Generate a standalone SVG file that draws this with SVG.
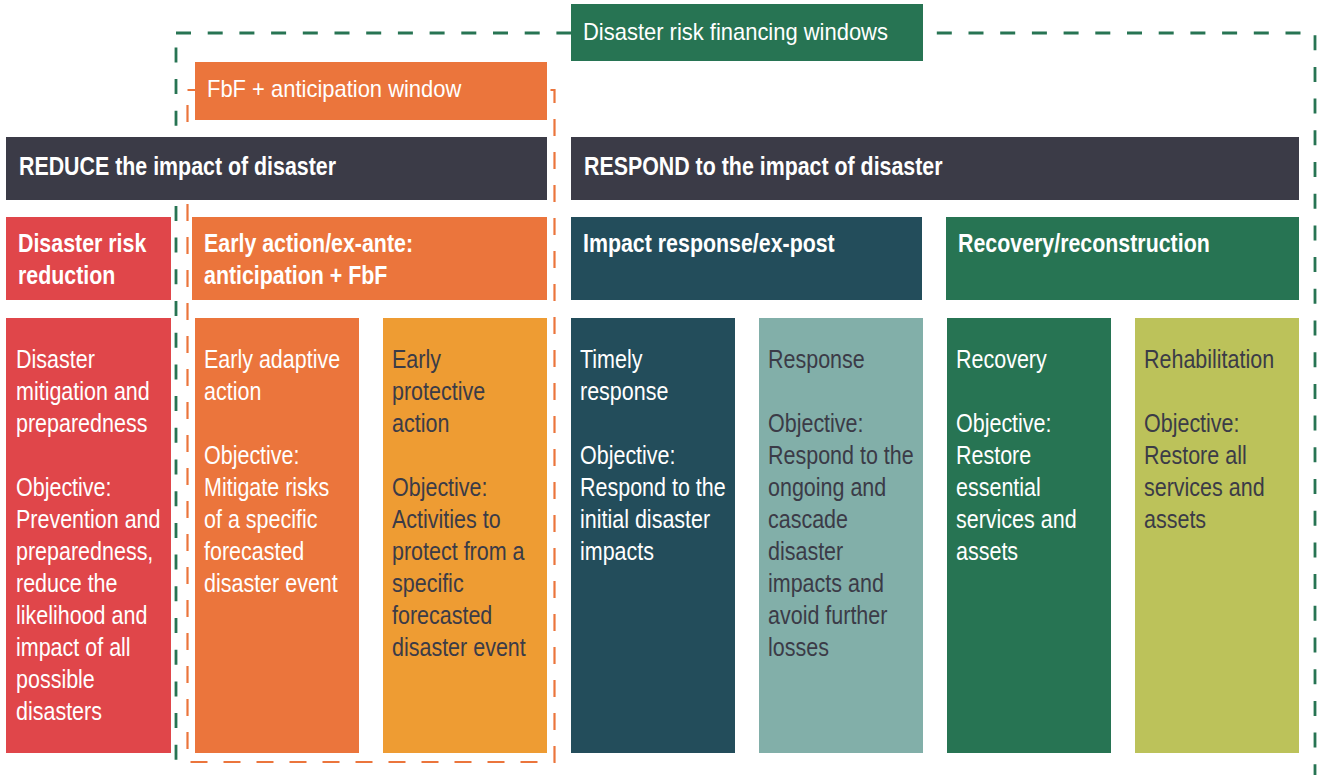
<svg xmlns="http://www.w3.org/2000/svg" width="1317" height="775" viewBox="0 0 1317 775">
  <style>
    text { font-family: "Liberation Sans", Arial, sans-serif; }
    .lbl { font-size: 23px; fill: #ffffff; }
    .hd { font-size: 25px; font-weight: bold; fill: #ffffff; }
    .bd { font-size: 25px; fill: #ffffff; }
    .dk { fill: #3b3b47; }
    .frame-green { fill: none; stroke: #277453; stroke-width: 2.8; stroke-dasharray: 15 16.7; }
    .frame-orange { fill: none; stroke: #eb753c; stroke-width: 2.2; stroke-dasharray: 17 16; }
  </style>
  <rect width="1317" height="775" fill="#ffffff"/>

  <g id="frames">
    <rect class="frame-green" x="176" y="33" width="1139" height="746"/>
    <rect class="frame-orange" x="187.5" y="90" width="367" height="672"/>
  </g>

  <g id="window-drf">
    <rect x="571" y="4" width="352" height="57" fill="#277453"/>
    <g transform="translate(583 0) scale(0.955 1)"><text class="lbl" x="0" y="40">Disaster risk financing windows</text></g>
  </g>
  <g id="window-fbf">
    <rect x="195" y="62" width="352" height="58" fill="#eb753c"/>
    <g transform="translate(207 0) scale(0.955 1)"><text class="lbl" x="0" y="97">FbF + anticipation window</text></g>
  </g>

  <g id="bar-reduce">
    <rect x="6" y="137" width="541" height="63" fill="#3b3b47"/>
    <g transform="translate(19 0) scale(0.855 1)"><text class="hd" x="0" y="175">REDUCE the impact of disaster</text></g>
  </g>
  <g id="bar-respond">
    <rect x="571" y="137" width="728" height="63" fill="#3b3b47"/>
    <g transform="translate(584 0) scale(0.855 1)"><text class="hd" x="0" y="175">RESPOND to the impact of disaster</text></g>
  </g>

  <g id="hdr-drr">
    <rect x="6" y="217" width="165" height="83" fill="#e0464a"/>
    <g transform="translate(18 0) scale(0.855 1)">
      <text class="hd" x="0" y="252">Disaster risk</text>
      <text class="hd" x="0" y="284">reduction</text>
    </g>
  </g>
  <g id="hdr-early">
    <rect x="192" y="217" width="355" height="83" fill="#eb753c"/>
    <g transform="translate(204 0) scale(0.855 1)">
      <text class="hd" x="0" y="252">Early action/ex-ante:</text>
      <text class="hd" x="0" y="284">anticipation + FbF</text>
    </g>
  </g>
  <g id="hdr-impact">
    <rect x="571" y="217" width="351" height="83" fill="#234d5b"/>
    <g transform="translate(583 0) scale(0.855 1)"><text class="hd" x="0" y="252">Impact response/ex-post</text></g>
  </g>
  <g id="hdr-recovery">
    <rect x="946" y="217" width="353" height="83" fill="#277453"/>
    <g transform="translate(958 0) scale(0.855 1)"><text class="hd" x="0" y="252">Recovery/reconstruction</text></g>
  </g>

  <g id="col-mitigation">
    <rect x="6" y="318" width="165" height="435" fill="#e0464a"/>
    <g transform="translate(16 0) scale(0.86 1)">
      <text class="bd" x="0" y="368">Disaster</text>
      <text class="bd" x="0" y="400">mitigation and</text>
      <text class="bd" x="0" y="432">preparedness</text>
      <text class="bd" x="0" y="496">Objective:</text>
      <text class="bd" x="0" y="528">Prevention and</text>
      <text class="bd" x="0" y="560">preparedness,</text>
      <text class="bd" x="0" y="592">reduce the</text>
      <text class="bd" x="0" y="624">likelihood and</text>
      <text class="bd" x="0" y="656">impact of all</text>
      <text class="bd" x="0" y="688">possible</text>
      <text class="bd" x="0" y="720">disasters</text>
    </g>
  </g>
  <g id="col-adaptive">
    <rect x="195" y="318" width="164" height="435" fill="#eb753c"/>
    <g transform="translate(204 0) scale(0.86 1)">
      <text class="bd" x="0" y="368">Early adaptive</text>
      <text class="bd" x="0" y="400">action</text>
      <text class="bd" x="0" y="464">Objective:</text>
      <text class="bd" x="0" y="496">Mitigate risks</text>
      <text class="bd" x="0" y="528">of a specific</text>
      <text class="bd" x="0" y="560">forecasted</text>
      <text class="bd" x="0" y="592">disaster event</text>
    </g>
  </g>
  <g id="col-protective">
    <rect x="383" y="318" width="164" height="435" fill="#ee9c33"/>
    <g transform="translate(392 0) scale(0.86 1)">
      <text class="bd dk" x="0" y="368">Early</text>
      <text class="bd dk" x="0" y="400">protective</text>
      <text class="bd dk" x="0" y="432">action</text>
      <text class="bd dk" x="0" y="496">Objective:</text>
      <text class="bd dk" x="0" y="528">Activities to</text>
      <text class="bd dk" x="0" y="560">protect from a</text>
      <text class="bd dk" x="0" y="592">specific</text>
      <text class="bd dk" x="0" y="624">forecasted</text>
      <text class="bd dk" x="0" y="656">disaster event</text>
    </g>
  </g>
  <g id="col-timely">
    <rect x="571" y="318" width="164" height="435" fill="#234d5b"/>
    <g transform="translate(580 0) scale(0.86 1)">
      <text class="bd" x="0" y="368">Timely</text>
      <text class="bd" x="0" y="400">response</text>
      <text class="bd" x="0" y="464">Objective:</text>
      <text class="bd" x="0" y="496">Respond to the</text>
      <text class="bd" x="0" y="528">initial disaster</text>
      <text class="bd" x="0" y="560">impacts</text>
    </g>
  </g>
  <g id="col-response">
    <rect x="759" y="318" width="164" height="435" fill="#82afa9"/>
    <g transform="translate(768 0) scale(0.86 1)">
      <text class="bd dk" x="0" y="368">Response</text>
      <text class="bd dk" x="0" y="432">Objective:</text>
      <text class="bd dk" x="0" y="464">Respond to the</text>
      <text class="bd dk" x="0" y="496">ongoing and</text>
      <text class="bd dk" x="0" y="528">cascade</text>
      <text class="bd dk" x="0" y="560">disaster</text>
      <text class="bd dk" x="0" y="592">impacts and</text>
      <text class="bd dk" x="0" y="624">avoid further</text>
      <text class="bd dk" x="0" y="656">losses</text>
    </g>
  </g>
  <g id="col-recovery">
    <rect x="947" y="318" width="164" height="435" fill="#277453"/>
    <g transform="translate(956 0) scale(0.86 1)">
      <text class="bd" x="0" y="368">Recovery</text>
      <text class="bd" x="0" y="432">Objective:</text>
      <text class="bd" x="0" y="464">Restore</text>
      <text class="bd" x="0" y="496">essential</text>
      <text class="bd" x="0" y="528">services and</text>
      <text class="bd" x="0" y="560">assets</text>
    </g>
  </g>
  <g id="col-rehabilitation">
    <rect x="1135" y="318" width="164" height="435" fill="#bcc25a"/>
    <g transform="translate(1144 0) scale(0.86 1)">
      <text class="bd dk" x="0" y="368">Rehabilitation</text>
      <text class="bd dk" x="0" y="432">Objective:</text>
      <text class="bd dk" x="0" y="464">Restore all</text>
      <text class="bd dk" x="0" y="496">services and</text>
      <text class="bd dk" x="0" y="528">assets</text>
    </g>
  </g>
</svg>
